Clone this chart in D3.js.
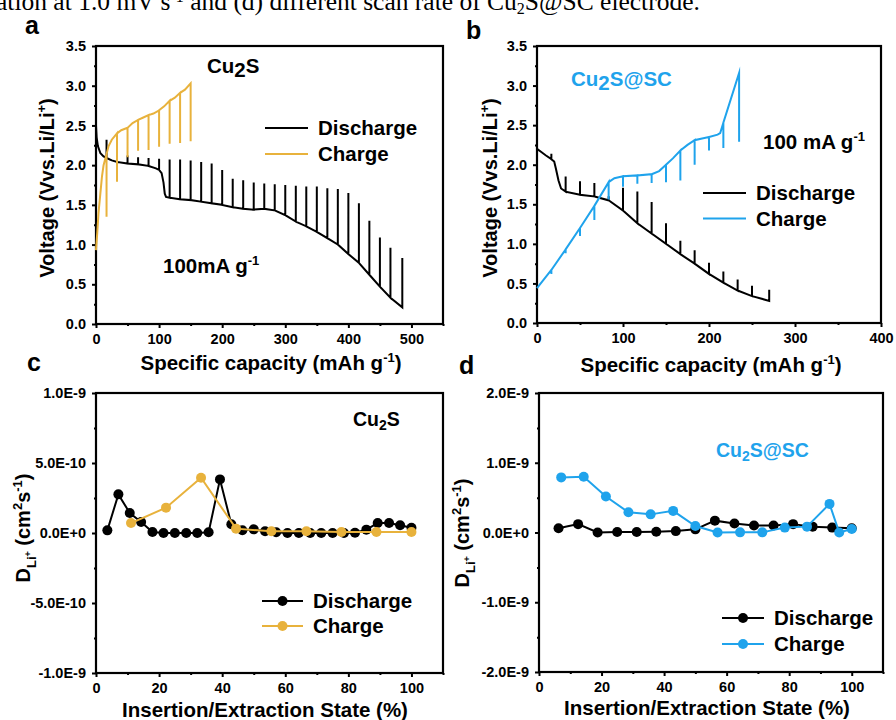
<!DOCTYPE html>
<html>
<head>
<meta charset="utf-8">
<script src="https://cdn.jsdelivr.net/npm/d3@7"></script>
<style>
  body { margin: 0; background: #fff; }
  text { font-family: "Liberation Sans", Arial, sans-serif; font-weight: bold; fill: #000; }
</style>
</head>
<body>
<div id="fig"></div>
<script>
// ---- data ----
// GITT rows: [capacity (mAh/g), closed-circuit voltage, relaxed voltage at pulse end or null]
var cu2sDischarge = [
  [0, 2.5], [1, 2.35], [3, 2.24], [7, 2.15], [12, 2.11], [16.7, 2.09, 2.32], [25, 2.06],
  [33.3, 2.04, 2.13], [50, 2.02, 2.12], [66.7, 2.01, 2.10], [83.3, 1.99, 2.09], [95, 1.96],
  [100, 1.94, 2.08], [104, 1.9], [107, 1.78], [109, 1.64], [111, 1.6], [116.7, 1.59, 2.07],
  [133.3, 1.57, 2.07], [150, 1.56, 2.06], [166.7, 1.54, 2.04], [183.3, 1.52, 2.02],
  [200, 1.50, 1.94], [216.7, 1.47, 1.83], [233.3, 1.45, 1.81], [250, 1.44, 1.78],
  [266.7, 1.45, 1.77], [283.3, 1.43, 1.76], [300, 1.37, 1.75], [316.7, 1.29, 1.74],
  [333.3, 1.23, 1.73], [350, 1.16, 1.73], [366.7, 1.08, 1.71], [383.3, 1.0, 1.70],
  [400, 0.88, 1.65], [416.7, 0.77, 1.52], [433.3, 0.62, 1.30], [450, 0.47, 1.09],
  [466.7, 0.33, 0.96], [485.5, 0.21, 0.83]
];
var cu2sCharge = [
  [0, 0.93], [2, 1.15], [4, 1.4], [7, 1.65], [9.5, 1.86], [12, 2.0], [16.7, 2.14, 1.35],
  [20, 2.24], [25, 2.32], [33.3, 2.40, 1.79], [40, 2.44], [50, 2.47, 2.10], [58, 2.53],
  [66.7, 2.57, 2.18], [75, 2.60], [83.3, 2.63, 2.19], [91, 2.65], [100, 2.69, 2.23],
  [108, 2.74], [116.7, 2.81, 2.27], [125, 2.85], [133.3, 2.91, 2.28], [141, 2.95],
  [150, 3.03, 2.30]
];
var scDischarge = [
  [0, 2.2], [5, 2.16], [10, 2.12], [16.7, 2.07, 2.14], [20, 2.04], [22, 1.95], [25, 1.80],
  [28, 1.70], [33.3, 1.66, 1.85], [50, 1.62, 1.79], [66.7, 1.60, 1.77], [83.3, 1.55, 1.60],
  [100, 1.42, 1.71], [116.7, 1.26, 1.66], [133.3, 1.13, 1.53], [150, 1.0, 1.26],
  [166.7, 0.87, 1.04], [183.3, 0.75, 0.92], [200, 0.62, 0.76], [216.7, 0.51, 0.65],
  [233.3, 0.41, 0.55], [250, 0.34, 0.47], [270, 0.28, 0.42]
];
var scCharge = [
  [0, 0.44], [16.7, 0.67, 0.62], [33.3, 0.93, 0.88], [50, 1.2, 1.1], [66.7, 1.48, 1.3],
  [83.3, 1.78, 1.56], [90, 1.83], [100, 1.855, 1.72], [116.7, 1.865, 1.76], [133.3, 1.88, 1.77],
  [142, 1.92], [150, 2.0, 1.78], [158, 2.08], [166.7, 2.18, 1.8], [175, 2.25],
  [183.3, 2.31, 2.0], [192, 2.33], [200, 2.35, 2.18], [210, 2.38], [213, 2.40],
  [216.7, 2.53, 2.21], [235, 3.16, 2.29]
];

// diffusion coefficients
var cDisState = [3.6, 7.1, 10.7, 14.3, 17.9, 21.4, 25, 28.6, 32.1, 35.7, 39.3, 42.9, 46.4, 50,
  53.6, 57.1, 60.7, 64.3, 67.9, 71.4, 75, 78.6, 82.1, 85.7, 89.3, 92.9, 96.4, 100];
var cDisD = [0.19e-10, 2.76e-10, 1.43e-10, 0.79e-10, 0.07e-10, 0, 0, 0, 0, 0.05e-10, 3.83e-10,
  0.62e-10, 0.2e-10, 0.26e-10, 0.12e-10, 0.05e-10, 0, 0, 0, 0, 0, 0, 0.02e-10, 0.24e-10,
  0.71e-10, 0.71e-10, 0.55e-10, 0.38e-10];
var cChgState = [11.1, 22.2, 33.3, 44.4, 55.6, 66.7, 77.8, 88.9, 100];
var cChgD = [0.71e-10, 1.81e-10, 3.95e-10, 0.31e-10, 0.12e-10, 0.12e-10, 0.07e-10, 0.07e-10, 0.07e-10];

var dDisState = [6.25, 12.5, 18.75, 25, 31.25, 37.5, 43.75, 50, 56.25, 62.5, 68.75, 75, 81.25,
  87.5, 93.75, 100];
var dDisD = [0.06e-9, 0.12e-9, 0, 0.007e-9, 0.007e-9, 0.012e-9, 0.02e-9, 0.045e-9, 0.17e-9,
  0.13e-9, 0.10e-9, 0.10e-9, 0.12e-9, 0.084e-9, 0.07e-9, 0.06e-9];
var dChgState = [7.1, 14.3, 21.4, 28.6, 35.7, 42.9, 50, 57.1, 64.3, 71.4, 78.6, 85.7, 92.9, 96.0, 100];
var dChgD = [0.79e-9, 0.80e-9, 0.515e-9, 0.29e-9, 0.26e-9, 0.31e-9, 0.093e-9, 0, 0.002e-9,
  0.002e-9, 0.07e-9, 0.084e-9, 0.41e-9, 0, 0.05e-9];

// ticks
var capTicksA = [0, 100, 200, 300, 400, 500];
var capTicksB = [0, 100, 200, 300, 400];
var voltTicks = [0, 0.5, 1.0, 1.5, 2.0, 2.5, 3.0, 3.5];
var stateTicks = [0, 20, 40, 60, 80, 100];
var dTicksC = [-1e-9, -5e-10, 0, 5e-10, 1e-9];
var dTicksD = [-2e-9, -1e-9, 0, 1e-9, 2e-9];

var gold = '#E8B23C';
var blue = '#1FA3EC';

var svg = d3.select('#fig').append('svg').attr('width', 896).attr('height', 720);

// caption fragment at the top of the page
svg.append('text')
  .attr('x', -4).attr('y', 10)
  .style('font-family', '"Liberation Serif", "Times New Roman", serif')
  .style('font-weight', 'normal')
  .style('font-size', '25.5px')
  .html('ation at 1.0 mV s<tspan dy="-8" font-size="16">-1</tspan><tspan dy="8"> and (d) different scan rate of Cu</tspan><tspan dy="4" font-size="16">2</tspan><tspan dy="-4">S@SC electrode.</tspan>');

function sci(v) {
  if (v === 0) return '0.0E+0';
  var e = Math.floor(Math.log10(Math.abs(v)) + 1e-9);
  return (v / Math.pow(10, e)).toFixed(1) + 'E' + e;
}

function mids(ticks) {
  var out = [];
  for (var i = 0; i < ticks.length - 1; i++) out.push((ticks[i] + ticks[i + 1]) / 2);
  return out;
}

function makePanel(box, xDom, yDom, xTicks, xMinor, yTicks, yFmt) {
  var g = svg.append('g');
  var x = d3.scaleLinear().domain(xDom).range([box.l, box.r]);
  var y = d3.scaleLinear().domain(yDom).range([box.b, box.t]);

  g.append('g').attr('transform', 'translate(0,' + box.b + ')')
    .call(d3.axisBottom(x).tickValues(xTicks).tickSize(4).tickSizeOuter(0).tickPadding(6)
      .tickFormat(d3.format('d')));
  g.append('g').attr('transform', 'translate(0,' + box.b + ')')
    .call(d3.axisBottom(x).tickValues(xMinor).tickSize(2).tickSizeOuter(0).tickFormat(''));
  g.append('g').attr('transform', 'translate(' + box.l + ',0)')
    .call(d3.axisLeft(y).tickValues(yTicks).tickSize(4).tickSizeOuter(0).tickPadding(6)
      .tickFormat(yFmt));
  g.append('g').attr('transform', 'translate(' + box.l + ',0)')
    .call(d3.axisLeft(y).tickValues(mids(yTicks)).tickSize(2).tickSizeOuter(0).tickFormat(''));

  g.selectAll('.domain').remove();
  g.selectAll('.tick line').attr('stroke', '#000').attr('stroke-width', 2);
  g.selectAll('.tick text').style('font-size', '14.5px').attr('fill', '#000');

  g.append('rect')
    .attr('x', box.l).attr('y', box.t)
    .attr('width', box.r - box.l).attr('height', box.b - box.t)
    .attr('fill', 'none').attr('stroke', '#000').attr('stroke-width', 2.2);

  return { g: g, x: x, y: y, box: box };
}

function gitt(p, rows, color) {
  var pts = [];
  rows.forEach(function(r) {
    pts.push([r[0], r[1]]);
    if (r[2] != null) { pts.push([r[0], r[2]]); pts.push([r[0], r[1]]); }
  });
  var line = d3.line().x(function(d) { return p.x(d[0]); }).y(function(d) { return p.y(d[1]); });
  p.g.append('path').datum(pts)
    .attr('d', line).attr('fill', 'none')
    .attr('stroke', color).attr('stroke-width', 2).attr('stroke-linejoin', 'miter').attr('stroke-miterlimit', 10);
}

function dotLine(p, xs, ys, color) {
  var pts = xs.map(function(v, i) { return [v, ys[i]]; });
  var line = d3.line().x(function(d) { return p.x(d[0]); }).y(function(d) { return p.y(d[1]); });
  p.g.append('path').datum(pts).attr('d', line)
    .attr('fill', 'none').attr('stroke', color).attr('stroke-width', 2);
  p.g.selectAll(null).data(pts).enter().append('circle')
    .attr('cx', function(d) { return p.x(d[0]); })
    .attr('cy', function(d) { return p.y(d[1]); })
    .attr('r', 5).attr('fill', color);
}

function legend(x0, x1, y0, gap, fs, colors, labels, dots) {
  colors.forEach(function(c, i) {
    var yy = y0 + i * gap;
    svg.append('line').attr('x1', x0).attr('x2', x1).attr('y1', yy).attr('y2', yy)
      .attr('stroke', c).attr('stroke-width', 2);
    if (dots) svg.append('circle').attr('cx', (x0 + x1) / 2).attr('cy', yy).attr('r', 5).attr('fill', c);
    svg.append('text').attr('x', x1 + 10).attr('y', yy + fs * 0.36)
      .style('font-size', fs + 'px').text(labels[i]);
  });
}

function label(x, y, size, html, anchor, color) {
  return svg.append('text').attr('x', x).attr('y', y)
    .attr('text-anchor', anchor || 'start')
    .style('font-size', size + 'px')
    .style('fill', color || '#000')
    .html(html);
}

function yTitle(x, y, size, html) {
  svg.append('text').attr('transform', 'translate(' + x + ',' + y + ') rotate(-90)')
    .attr('text-anchor', 'middle').style('font-size', size + 'px').html(html);
}

var fmt1 = d3.format('.1f');

// ---- panel a ----
var pa = makePanel({ l: 96, t: 46, r: 443, b: 324 }, [0, 550], [0, 3.5],
  capTicksA, [50, 150, 250, 350, 450, 550], voltTicks, fmt1);
gitt(pa, cu2sDischarge, '#000');
gitt(pa, cu2sCharge, gold);

// ---- panel b ----
var pb = makePanel({ l: 537, t: 46, r: 881, b: 323 }, [0, 400], [0, 3.5],
  capTicksB, [50, 150, 250, 350], voltTicks, fmt1);
gitt(pb, scDischarge, '#000');
gitt(pb, scCharge, blue);

// ---- panel c ----
var pc = makePanel({ l: 96, t: 393, r: 443, b: 673 }, [0, 110], [-1e-9, 1e-9],
  stateTicks, [10, 30, 50, 70, 90, 110], dTicksC, sci);
dotLine(pc, cDisState, cDisD, '#000');
dotLine(pc, cChgState, cChgD, gold);

// ---- panel d ----
var pd = makePanel({ l: 539, t: 393, r: 883, b: 672 }, [0, 110], [-2e-9, 2e-9],
  stateTicks, [10, 30, 50, 70, 90, 110], dTicksD, sci);
dotLine(pd, dDisState, dDisD, '#000');
dotLine(pd, dChgState, dChgD, blue);

// panel letters
label(25, 34, 25, 'a');
label(466, 39, 25, 'b');
label(27, 371, 25, 'c');
label(459, 374, 25, 'd');

// axis titles
var capTitle = 'Specific capacity (mAh g<tspan dy="-8" font-size="13">-1</tspan><tspan dy="8">)</tspan>';
label(271, 370, 20.5, capTitle, 'middle');
label(711, 372, 20.5, capTitle, 'middle');
var stateTitle = 'Insertion/Extraction State (%)';
label(265, 717, 20.5, stateTitle, 'middle');
label(707, 715, 20.5, stateTitle, 'middle');

var voltTitle = 'Voltage (Vvs.Li/Li<tspan dy="-8" font-size="13">+</tspan><tspan dy="8">)</tspan>';
yTitle(54, 188, 20, voltTitle);
yTitle(497, 188, 20, voltTitle);
var dTitle = 'D<tspan dy="6" font-size="13">Li</tspan><tspan dy="-5" font-size="9">+</tspan>' +
  '<tspan dy="-1"> (cm</tspan><tspan dy="-8" font-size="13">2</tspan><tspan dy="8">s</tspan>' +
  '<tspan dy="-8" font-size="13">-1</tspan><tspan dy="8">)</tspan>';
yTitle(30, 528, 20, dTitle);
yTitle(469, 533, 20, dTitle);

// annotations
label(207, 73, 20.5, 'Cu<tspan dy="4">2</tspan><tspan dy="-4">S</tspan>');
label(163, 273, 20.5, '100mA g<tspan dy="-8" font-size="13">-1</tspan>');
label(571, 86, 20.5, 'Cu<tspan dy="4">2</tspan><tspan dy="-4">S@SC</tspan>', 'start', blue);
label(763, 149, 20.5, '100 mA g<tspan dy="-8" font-size="13">-1</tspan>');
label(353, 426, 19.5, 'Cu<tspan dy="4" font-size="14">2</tspan><tspan dy="-4">S</tspan>');
label(716, 457, 19.5, 'Cu<tspan dy="4" font-size="14">2</tspan><tspan dy="-4">S@SC</tspan>', 'start', blue);

// legends
legend(265, 308, 128, 26, 20.5, ['#000', gold], ['Discharge', 'Charge'], false);
legend(703, 746, 193, 25.5, 20.5, ['#000', blue], ['Discharge', 'Charge'], false);
legend(262, 303, 601, 25, 20.5, ['#000', gold], ['Discharge', 'Charge'], true);
legend(722, 764, 618, 26, 20.5, ['#000', blue], ['Discharge', 'Charge'], true);
</script>
</body>
</html>
